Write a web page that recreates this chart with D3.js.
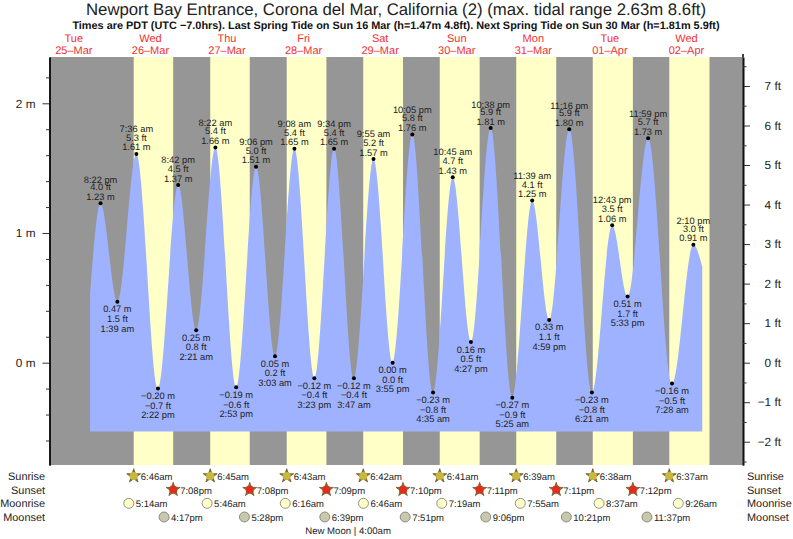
<!DOCTYPE html>
<html><head><meta charset="utf-8">
<script src="https://cdnjs.cloudflare.com/ajax/libs/d3/7.8.5/d3.min.js"></script>
<style>
html,body{margin:0;padding:0;background:#fff}
svg{display:block}
text{font-family:"Liberation Sans",Arial,Helvetica,sans-serif;fill:#222;text-rendering:geometricPrecision}
</style></head><body>
<svg id="c" width="793" height="539"></svg>
<script>
// ---- data ----
const titleText = "Newport Bay Entrance, Corona del Mar, California (2) (max. tidal range 2.63m 8.6ft)";
const subtitleText = "Times are PDT (UTC −7.0hrs). Last Spring Tide on Sun 16 Mar (h=1.47m 4.8ft). Next Spring Tide on Sun 30 Mar (h=1.81m 5.9ft)";
const dayDates = ["03-25","03-26","03-27","03-28","03-29","03-30","03-31","04-01","04-02"];
const dayNames = ["Tue","Wed","Thu","Fri","Sat","Sun","Mon","Tue","Wed"];
const dayLabels = ["25–Mar","26–Mar","27–Mar","28–Mar","29–Mar","30–Mar","31–Mar","01–Apr","02–Apr"];
const tideTimes = ["03-25 20:22","03-26 01:39","03-26 07:36","03-26 14:22","03-26 20:42","03-27 02:21","03-27 08:22","03-27 14:53","03-27 21:06","03-28 03:03","03-28 09:08","03-28 15:23","03-28 21:34","03-29 03:47","03-29 09:55","03-29 15:55","03-29 22:05","03-30 04:35","03-30 10:45","03-30 16:27","03-30 22:38","03-31 05:25","03-31 11:39","03-31 16:59","03-31 23:16","04-01 06:21","04-01 12:43","04-01 17:33","04-01 23:59","04-02 07:28","04-02 14:10"];
const tideMeters = [1.23,0.47,1.61,-0.20,1.37,0.25,1.66,-0.19,1.51,0.05,1.65,-0.12,1.65,-0.12,1.57,0.00,1.76,-0.23,1.43,0.16,1.81,-0.27,1.25,0.33,1.80,-0.23,1.06,0.51,1.73,-0.16,0.91];
const tideFeet = [4.0,1.5,5.3,-0.7,4.5,0.8,5.4,-0.6,5.0,0.2,5.4,-0.4,5.4,-0.4,5.2,0.0,5.8,-0.8,4.7,0.5,5.9,-0.9,4.1,1.1,5.9,-0.8,3.5,1.7,5.7,-0.5,3.0];
const curveStart = ["03-25 17:05", 0.53];
const curveEnd = ["04-02 16:57", 0.74];
const fillFloorMeters = -0.53;
const sunrise = ["03-26 06:46","03-27 06:45","03-28 06:43","03-29 06:42","03-30 06:41","03-31 06:39","04-01 06:38","04-02 06:37"];
const sunset = ["03-26 19:08","03-27 19:08","03-28 19:09","03-29 19:10","03-30 19:11","03-31 19:11","04-01 19:12"];
const lastBandEnd = "04-02 19:13";
const moonrise = ["03-26 05:14","03-27 05:46","03-28 06:16","03-29 06:46","03-30 07:19","03-31 07:55","04-01 08:37","04-02 09:26"];
const moonset = ["03-26 16:17","03-27 17:28","03-28 18:39","03-29 19:51","03-30 21:06","03-31 22:21","04-01 23:37"];
const moonPhaseText = "New Moon | 4:00am";
const moonPhaseTime = "03-29 04:00";
const meterMajor = [0,1,2];
const meterMinor = [-0.6,-0.4,-0.2,0.2,0.4,0.6,0.8,1.2,1.4,1.6,1.8,2.2];
const feetMajor = [-2,-1,0,1,2,3,4,5,6,7];
const feetMinor = [-2.5,-1.5,-0.5,0.5,1.5,2.5,3.5,4.5,5.5,6.5,7.5];
const rowNames = ["Sunrise","Sunset","Moonrise","Moonset"];

// ---- scales ----
const parse = d3.utcParse("%Y-%m-%d %H:%M");
const T = s => parse("2025-" + s);
const W = 793, H = 539, L = 50, R = 743, TOP = 57, BOT = 465;
const x = d3.scaleUtc().domain([T("03-25 04:32"), T("04-03 05:43")]).range([L, R]);
const y = d3.scaleLinear().domain([-0.789, 2.357]).range([BOT, TOP]);
const yFt = d3.scaleLinear().domain(y.domain().map(m => m / 0.3048)).range([BOT, TOP]);
const minus = s => s.replace("-", "−");
const svg = d3.select("#c");

// ---- titles ----
svg.append("text").attr("x", 396).attr("y", 14.5).attr("text-anchor","middle").attr("font-size",16.75).text(titleText);
svg.append("text").attr("x", 396).attr("y", 28.5).attr("text-anchor","middle").attr("font-size",10.9).attr("font-weight","bold").style("fill","#111").text(subtitleText);
const dayG = svg.append("g").selectAll("g").data(dayDates).join("g")
  .attr("transform", d => `translate(${x(T(d + " 12:00"))},0)`);
dayG.append("text").attr("y", 41.5).attr("text-anchor","middle").attr("font-size",11).style("fill","#f03030").text((d,i)=>dayNames[i]);
dayG.append("text").attr("y", 53.5).attr("text-anchor","middle").attr("font-size",11).style("fill","#f03030").text((d,i)=>dayLabels[i]);

// ---- background bands ----
svg.append("rect").attr("x",L).attr("y",TOP).attr("width",R-L).attr("height",BOT-TOP).attr("fill","#969696");
const bandEnds = sunset.concat([lastBandEnd]);
svg.append("g").selectAll("rect").data(sunrise).join("rect")
  .attr("x", d => x(T(d))).attr("y",TOP)
  .attr("width",(d,i)=>x(T(bandEnds[i]))-x(T(d))).attr("height",BOT-TOP)
  .attr("fill","#ffffc8");

// ---- tide ----
const pts = [[T(curveStart[0]),curveStart[1]]]
  .concat(tideTimes.map((t,i)=>[T(t),tideMeters[i]]))
  .concat([[T(curveEnd[0]),curveEnd[1]]]);
svg.append("path").datum(pts)
  .attr("fill","#9fb2ff")
  .attr("d", d3.area().x(d=>x(d[0])).y1(d=>y(d[1])).y0(y(fillFloorMeters)).curve(d3.curveMonotoneX));

// ---- extrema ----
const tight = new Set(["03-25 20:22","03-30 22:38","03-31 23:16","04-02 14:10"]);
const ext = svg.append("g").selectAll("g").data(tideTimes).join("g")
  .attr("transform",(d,i)=>`translate(${x(T(d))},${y(tideMeters[i])})`);
ext.append("circle").attr("r",2).attr("fill","#000");
const isHigh = i => (i % 2) === 0;
const fmtT = t => d3.utcFormat("%-I:%M %p")(T(t)).toLowerCase();
const lab = (sel, fn, fnY) => sel.append("text").attr("text-anchor","middle").attr("font-size",9.3).attr("y",fnY).text(fn);
lab(ext,(d,i)=>minus(tideMeters[i].toFixed(2))+" m",(d,i)=>isHigh(i)?-3.4:10.6);
lab(ext,(d,i)=>minus(tideFeet[i].toFixed(1))+" ft",(d,i)=>isHigh(i)?-13:20.2);
lab(ext,(d,i)=>fmtT(d),(d,i)=>isHigh(i)?(tight.has(d)?-20.4:-21.8):29.8);

// ---- axes ----
const axL = svg.append("g").attr("transform",`translate(${L-0.5},0)`);
axL.append("g").call(d3.axisLeft(y).tickValues(meterMajor).tickSize(7).tickSizeOuter(0).tickPadding(7).tickFormat(d=>d+" m"));
axL.append("g").call(d3.axisLeft(y).tickValues(meterMinor).tickSize(3.5).tickSizeOuter(0).tickFormat(""));
const axR = svg.append("g").attr("transform",`translate(${R},0)`);
axR.append("g").call(d3.axisRight(yFt).tickValues(feetMajor).tickSize(7).tickSizeOuter(0).tickPadding(0).tickFormat(d=>minus(String(d))+" ft"));
axR.append("g").call(d3.axisRight(yFt).tickValues(feetMinor).tickSize(3.5).tickSizeOuter(0).tickFormat(""));
axR.append("line").attr("y1",54).attr("y2",TOP).attr("stroke","#111").attr("stroke-width",1.6);
svg.selectAll(".domain").attr("stroke-width",1.6).attr("stroke","#111");
svg.selectAll(".tick line").attr("stroke","#333");
svg.selectAll(".tick text").attr("font-size",11.8).style("font-family",'"Liberation Sans",Arial,sans-serif').style("fill","#222");
axR.selectAll(".tick text").attr("text-anchor","end").attr("x",38);

// ---- almanac rows ----
const rowY = d3.scalePoint().domain(rowNames).range([476,517]);
svg.append("g").selectAll("text").data(rowNames).join("text")
  .attr("x",45).attr("y",d=>rowY(d)+4).attr("text-anchor","end").attr("font-size",10.9).text(d=>d);
svg.append("g").selectAll("text").data(rowNames).join("text")
  .attr("x",747).attr("y",d=>rowY(d)+4).attr("font-size",10.9).text(d=>d);
const fmtA = t => d3.utcFormat("%-I:%M%p")(T(t)).toLowerCase();
const star = d3.symbol().type(d3.symbolStar).size(60);
function row(name, times, draw){
  const g = svg.append("g").selectAll("g").data(times).join("g")
    .attr("transform",d=>`translate(${x(T(d))},${rowY(name)})`);
  draw(g);
  g.append("text").attr("x",7).attr("y",4).attr("font-size",9.5).text(d=>fmtA(d));
}
row("Sunrise",sunrise,g=>{
  g.append("path").attr("d",star).attr("fill","#8c7a2a").attr("stroke","#6a5520").attr("stroke-width",0.8);
  g.append("circle").attr("r",4.1).attr("fill","#c6b840");
});
row("Sunset",sunset,g=>{
  g.append("path").attr("d",star).attr("fill","#8c7a2a").attr("stroke","#6a5520").attr("stroke-width",0.8);
  g.append("circle").attr("r",4.1).attr("fill","#dd2f1f");
});
row("Moonrise",moonrise,g=>{
  g.append("circle").attr("r",5).attr("fill","#ffffc8").attr("stroke","#777").attr("stroke-width",0.8);
});
row("Moonset",moonset,g=>{
  g.append("circle").attr("r",5).attr("fill","#c8c8aa").attr("stroke","#777").attr("stroke-width",0.8);
});
svg.append("text").attr("x",x(T(moonPhaseTime))-6.5).attr("y",534).attr("text-anchor","middle").attr("font-size",9.6).text(moonPhaseText);
</script>
</body></html>
